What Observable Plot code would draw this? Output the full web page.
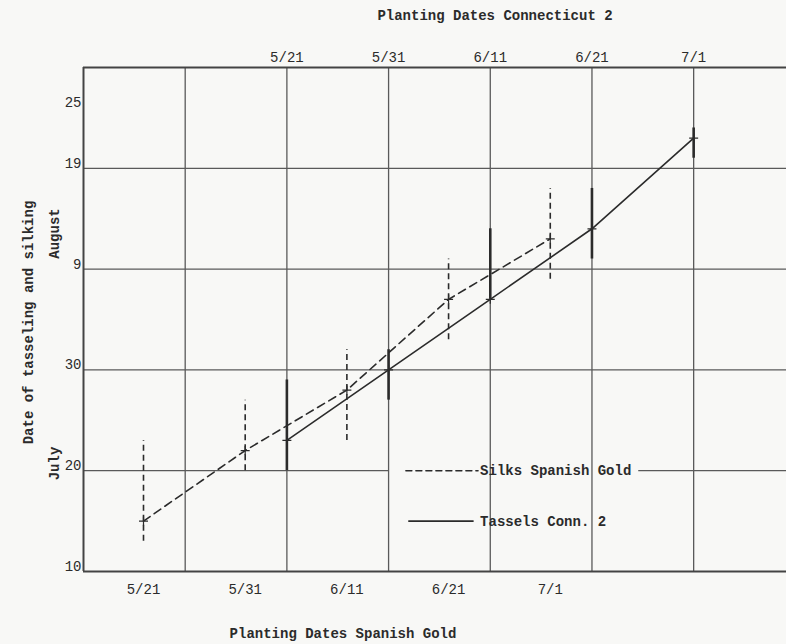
<!DOCTYPE html>
<html><head><meta charset="utf-8">
<script src="https://cdn.jsdelivr.net/npm/d3@7"></script>
<script src="https://cdn.jsdelivr.net/npm/@observablehq/plot@0.6"></script>
<style>
html,body{margin:0;padding:0;background:#f8f8f6;}
#chart svg{display:block}
</style></head><body><div id="chart"></div>
<script>
// Planting dates (tick labels on both x axes)
const plantingDates = ["5/21", "5/31", "6/11", "6/21", "7/1"];
// Dates of tasseling / silking, counted in days from June 30 (July 10 = 10, Aug 9 = 40)
const silkMid    = [15, 22, 28, 37, 43];
const silkLow    = [13, 20, 23, 33, 39];
const silkHigh   = [23, 27, 32, 41, 48];
const tasselMid  = [23, 30, 37, 44, 53];
const tasselLow  = [20, 27, 37, 41, 51];
const tasselHigh = [29, 32, 44, 48, 54];
// y tick values (days from June 30) and their printed labels
const yTickValues = [10, 20, 30, 40, 50, 56];
const yTickLabels = ["10", "20", "30", "9", "19", "25"];
const legendLabels = ["Silks Spanish Gold", "Tassels Conn. 2"];
const titleTop = "Planting Dates Connecticut 2";
const titleBottom = "Planting Dates Spanish Gold";
const yTitle = "Date of tasseling and silking";
const monthLabels = ["August", "July"];

// layout: grid columns 0..6; Spanish Gold dates sit mid-column, Conn. 2 dates on columns 2..6
const silkOffset = 0.59, tasselOffset = 2;
const silks = plantingDates.map((d, i) => ({pos: i + silkOffset, date: d, mid: silkMid[i], low: silkLow[i], high: silkHigh[i]}));
const tassels = plantingDates.map((d, i) => ({pos: i + tasselOffset, date: d, mid: tasselMid[i], low: tasselLow[i], high: tasselHigh[i]}));

const ink = "#2b2b2b", grid = "#5a5a5a";
const legendDash = [{x: 3.17, y: 20}, {x: 3.88, y: 20}];
const legendSolid = [{x: 3.2, y: 15}, {x: 3.83, y: 15}];

const chart = Plot.plot({
  width: 786, height: 644,
  marginLeft: 83, marginRight: 0, marginTop: 67, marginBottom: 73,
  x: {domain: [0, 6.913], axis: null},
  y: {domain: [10, 60], axis: null},
  style: {fontFamily: "'Liberation Mono', 'DejaVu Sans Mono', monospace", fontSize: "14px", background: "transparent", color: ink},
  marks: [
    // grid
    Plot.ruleX([1, 2, 3, 4, 5, 6], {stroke: grid, strokeWidth: 1.3}),
    Plot.ruleY([30, 40, 50], {stroke: grid, strokeWidth: 1.3}),
    Plot.ruleY([20], {x1: 0, x2: 3, stroke: grid, strokeWidth: 1.3}),
    Plot.ruleY([20], {x1: 5.46, x2: 6.913, stroke: grid, strokeWidth: 1.3}),
    // frame
    Plot.ruleX([0], {stroke: "#444", strokeWidth: 2}),
    Plot.ruleY([10, 60], {stroke: "#444", strokeWidth: 2}),
    // range bars
    Plot.ruleX(silks, {x: "pos", y1: "low", y2: "high", stroke: ink, strokeWidth: 1.6, strokeDasharray: "6,4"}),
    Plot.ruleX(tassels, {x: "pos", y1: "low", y2: "high", stroke: ink, strokeWidth: 2.6}),
    // lines
    Plot.line(silks, {x: "pos", y: "mid", stroke: ink, strokeWidth: 1.6, strokeDasharray: "8,5"}),
    Plot.line(tassels, {x: "pos", y: "mid", stroke: ink, strokeWidth: 1.6}),
    Plot.dot(silks, {x: "pos", y: "mid", symbol: "plus", r: 3, stroke: ink, strokeWidth: 1.2}),
    Plot.dot(tassels, {x: "pos", y: "mid", symbol: "plus", r: 3, stroke: ink, strokeWidth: 1.2}),
    // legend
    Plot.line(legendDash, {x: "x", y: "y", stroke: ink, strokeWidth: 1.5, strokeDasharray: "6,4"}),
    Plot.line(legendSolid, {x: "x", y: "y", stroke: ink, strokeWidth: 1.8}),
    Plot.text([legendLabels[0]], {x: 3.9, y: 20, text: d => d, textAnchor: "start", fontWeight: "bold", fill: ink}),
    Plot.text([legendLabels[1]], {x: 3.9, y: 15, text: d => d, textAnchor: "start", fontWeight: "bold", fill: ink}),
    // x tick labels
    Plot.text(silks, {x: "pos", frameAnchor: "bottom", lineAnchor: "middle", text: "date", dy: 18, fill: ink}),
    Plot.text(tassels, {x: "pos", frameAnchor: "top", lineAnchor: "middle", text: "date", dy: -10, fill: ink}),
    // y tick labels
    Plot.text(yTickValues, {y: d => d, frameAnchor: "left", text: (d, i) => yTickLabels[i], textAnchor: "end", dx: -2, dy: -5, fill: ink}),
    // titles
    Plot.text([titleTop], {frameAnchor: "top", lineAnchor: "middle", textAnchor: "middle", text: d => d, dx: 60, dy: -52, fontWeight: "bold", fill: ink}),
    Plot.text([titleBottom], {frameAnchor: "bottom", lineAnchor: "middle", textAnchor: "middle", text: d => d, dx: -92, dy: 62, fontWeight: "bold", fill: ink}),
    Plot.text([yTitle], {frameAnchor: "left", textAnchor: "middle", lineAnchor: "middle", text: d => d, rotate: -90, dx: -55, dy: 3, fontWeight: "bold", fill: ink}),
    Plot.text([monthLabels[0]], {frameAnchor: "left", textAnchor: "middle", lineAnchor: "middle", text: d => d, rotate: -90, dx: -29, dy: -86, fontWeight: "bold", fill: ink}),
    Plot.text([monthLabels[1]], {frameAnchor: "left", textAnchor: "middle", lineAnchor: "middle", text: d => d, rotate: -90, dx: -29, dy: 144, fontWeight: "bold", fill: ink})
  ]
});
document.getElementById("chart").appendChild(chart);
</script>
</body></html>
